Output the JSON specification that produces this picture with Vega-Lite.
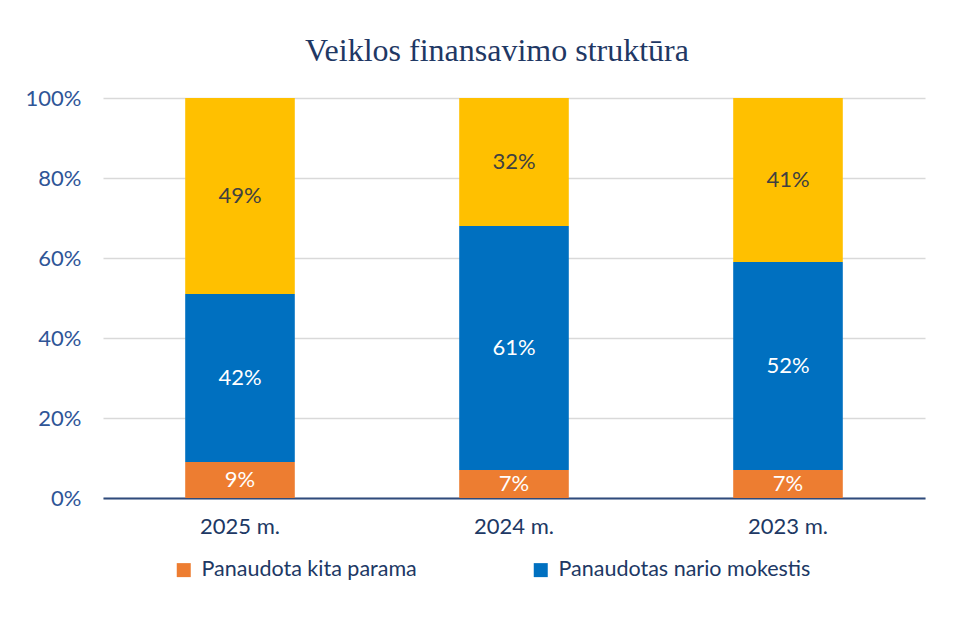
{
  "$schema": "https://vega.github.io/schema/vega-lite/v6.json",
  "autosize": {"type": "none"},
  "width": 822,
  "height": 400,
  "padding": {"left": 103, "top": 98, "right": 36, "bottom": 123},
  "background": "white",
  "title": {
    "text": "Veiklos finansavimo struktūra",
    "font": "Liberation Serif",
    "fontSize": 32,
    "fontWeight": "normal",
    "color": "#1f3864",
    "anchor": "middle",
    "dx": -17,
    "offset": 19
  },
  "data": {
    "values": [
      {"year": "2025 m.", "series": "Panaudota kita parama", "ord": 1, "v": 0.09},
      {"year": "2025 m.", "series": "Panaudotas nario mokestis", "ord": 2, "v": 0.42},
      {"year": "2025 m.", "series": "Kita", "ord": 3, "v": 0.49},
      {"year": "2024 m.", "series": "Panaudota kita parama", "ord": 1, "v": 0.07},
      {"year": "2024 m.", "series": "Panaudotas nario mokestis", "ord": 2, "v": 0.61},
      {"year": "2024 m.", "series": "Kita", "ord": 3, "v": 0.32},
      {"year": "2023 m.", "series": "Panaudota kita parama", "ord": 1, "v": 0.07},
      {"year": "2023 m.", "series": "Panaudotas nario mokestis", "ord": 2, "v": 0.52},
      {"year": "2023 m.", "series": "Kita", "ord": 3, "v": 0.41}
    ]
  },
  "encoding": {
    "x": {
      "field": "year",
      "type": "nominal",
      "sort": ["2025 m.", "2024 m.", "2023 m."],
      "scale": {"paddingInner": 0.6, "paddingOuter": 0.3},
      "axis": {
        "title": null,
        "labelAngle": 0,
        "labelFont": "Lato",
        "labelFontSize": 22,
        "labelColor": "#203864",
        "labelPadding": 18,
        "ticks": false,
        "domain": true,
        "domainColor": "#2f4b7c",
        "domainWidth": 2
      }
    },
    "y": {
      "field": "v",
      "type": "quantitative",
      "stack": "zero",
      "scale": {"domain": [0, 1]},
      "axis": {
        "title": null,
        "format": ".0%",
        "values": [0, 0.2, 0.4, 0.6, 0.8, 1],
        "labelFont": "Lato",
        "labelFontSize": 22,
        "labelColor": "#2f5597",
        "labelPadding": 22,
        "ticks": false,
        "domain": false,
        "grid": true,
        "gridColor": "#d9d9d9",
        "gridWidth": 1.5
      }
    },
    "order": {"field": "ord", "type": "quantitative"}
  },
  "layer": [
    {
      "mark": {"type": "bar"},
      "encoding": {
        "color": {
          "field": "series",
          "type": "nominal",
          "scale": {
            "domain": ["Panaudota kita parama", "Panaudotas nario mokestis", "Kita"],
            "range": ["#ED7D31", "#0070C0", "#FFC000"]
          },
          "legend": {
            "values": ["Panaudota kita parama", "Panaudotas nario mokestis"],
            "title": null,
            "orient": "none",
            "direction": "horizontal",
            "legendX": 70,
            "legendY": 461,
            "symbolType": "square",
            "symbolSize": 196,
            "symbolStrokeWidth": 0,
            "labelFont": "Lato",
            "labelFontSize": 21.5,
            "labelColor": "#203864",
            "labelOffset": 7,
            "columnPadding": 113,
            "labelLimit": 400
          }
        }
      }
    },
    {
      "mark": {"type": "text", "font": "Lato", "fontSize": 22, "baseline": "middle"},
      "encoding": {
        "y": {"field": "v", "type": "quantitative", "stack": "zero", "bandPosition": 0.5},
        "text": {"field": "v", "type": "quantitative", "format": ".0%"},
        "color": {
          "condition": {"test": "datum.series === 'Kita'", "value": "#404040"},
          "value": "#ffffff"
        }
      }
    }
  ],
  "config": {"view": {"stroke": null}}
}
